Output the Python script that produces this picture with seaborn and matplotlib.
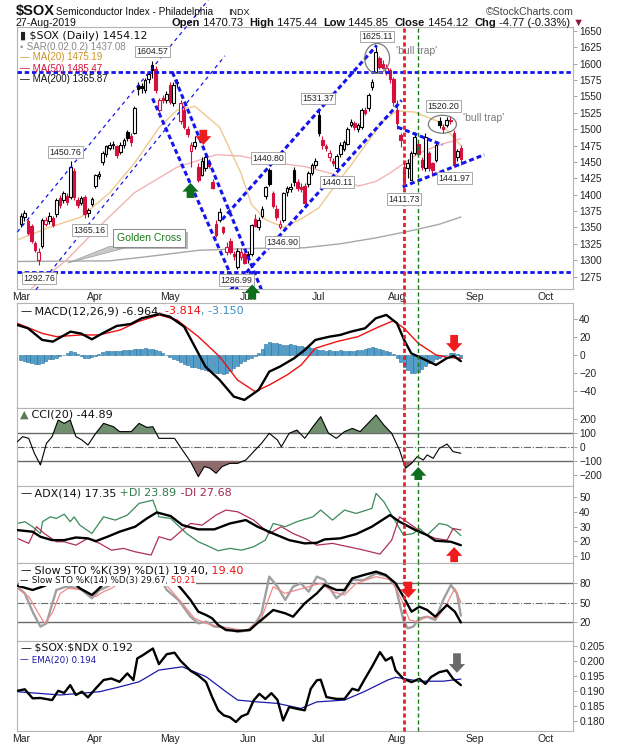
import numpy as np
import pandas as pd
import matplotlib
matplotlib.use("Agg")
import matplotlib.pyplot as plt
import matplotlib.patheffects as pe
from matplotlib.patches import Ellipse, Polygon
import seaborn as sns

# ============================ data ============================
opens = [1356, 1366, 1360, 1352, 1326, 1300, 1322, 1356, 1360, 1364,
         1370, 1395, 1392, 1398, 1396, 1436, 1392, 1388, 1397, 1372,
         1386, 1414, 1428, 1450, 1462, 1472, 1476, 1474, 1465, 1476,
         1496, 1490, 1494, 1568, 1566, 1560, 1576, 1598, 1592, 1530,
         1548, 1544, 1568, 1540, 1572, 1512, 1530, 1500, 1466, 1474,
         1443, 1430, 1440, 1450, 1420, 1356, 1362, 1350, 1312, 1330,
         1310, 1290, 1305, 1310, 1310, 1310, 1363, 1350, 1368, 1398,
         1438, 1402, 1378, 1350, 1362, 1404, 1408, 1438, 1420, 1412,
         1414, 1416, 1433, 1446, 1521, 1484, 1474, 1458, 1452, 1440,
         1462, 1470, 1478, 1506, 1510, 1500, 1504, 1530, 1532, 1564,
         1588, 1608, 1600, 1586, 1590, 1577, 1530, 1491, 1443, 1440,
         1423, 1463, 1477, 1453, 1441, 1463, 1448, 1453, 1513, 1504,
         1506, 1514, 1494, 1458, 1470.73]
highs = [1372, 1376, 1363, 1356, 1330, 1318, 1364, 1366, 1374, 1368,
         1395, 1400, 1406, 1402, 1450.76, 1440, 1396, 1398, 1400, 1380,
         1396, 1432, 1436, 1466, 1476, 1480, 1482, 1476, 1480, 1486,
         1499, 1494, 1535, 1572, 1570, 1578, 1588, 1604.57, 1596, 1548,
         1552, 1558, 1572, 1572, 1576, 1545, 1534, 1505, 1480, 1490,
         1448, 1458, 1464, 1455, 1424, 1362, 1380, 1352, 1328, 1334,
         1314, 1318, 1318, 1312, 1314, 1356, 1370, 1366, 1382, 1414,
         1440.80, 1406, 1384, 1362, 1404, 1414, 1418, 1442, 1424, 1418,
         1418, 1436, 1448, 1456, 1531.37, 1490, 1478, 1468, 1456, 1462,
         1480, 1484, 1504, 1516, 1512, 1510, 1532, 1534, 1556, 1576,
         1625.11, 1612, 1606, 1600, 1594, 1580, 1545, 1494, 1450, 1455,
         1466, 1495, 1482, 1458, 1494, 1466, 1450, 1480, 1518, 1508,
         1518, 1520.20, 1498, 1470, 1475.44]
lows = [1350, 1360, 1338, 1326, 1313, 1292.76, 1318, 1352, 1356, 1350,
        1366, 1380, 1388, 1384, 1394, 1392, 1380, 1384, 1365.16, 1366,
        1382, 1410, 1424, 1446, 1458, 1468, 1470, 1456, 1462, 1472,
        1482, 1474, 1492, 1552, 1556, 1556, 1570, 1578, 1556, 1526,
        1540, 1540, 1538, 1536, 1564, 1508, 1500, 1488, 1442, 1470,
        1420, 1428, 1436, 1440, 1408, 1336, 1358, 1340, 1308, 1310,
        1300, 1286.99, 1300, 1294, 1296, 1306, 1350, 1346, 1364, 1394,
        1414, 1380, 1362, 1346.90, 1358, 1398, 1404, 1414, 1406, 1404,
        1384, 1412, 1430, 1440, 1490, 1470, 1466, 1452, 1444, 1440.11,
        1458, 1466, 1476, 1504, 1498, 1496, 1500, 1522, 1528, 1560,
        1586, 1592, 1592, 1582, 1570, 1536, 1500, 1473, 1411.73, 1426,
        1422, 1460, 1458, 1438, 1436, 1436, 1428, 1450, 1502, 1494,
        1504, 1508, 1441.97, 1452, 1445.85]
closes = [1368, 1372, 1341, 1329, 1316, 1312, 1362, 1361, 1367, 1353,
          1392, 1385, 1403, 1389, 1443, 1397, 1385, 1395, 1370, 1377,
          1393, 1430, 1431, 1463, 1474, 1476, 1478, 1461, 1476, 1483,
          1486, 1480, 1532, 1562, 1563, 1575, 1584, 1590, 1560, 1545,
          1544, 1554, 1542, 1568, 1570, 1540, 1504, 1492, 1476, 1480,
          1423, 1452, 1458, 1444, 1410, 1339, 1374, 1343, 1320, 1312,
          1306, 1314, 1313, 1296, 1305, 1354, 1352, 1362, 1378, 1412,
          1416, 1382, 1366, 1356, 1402, 1410, 1412, 1420, 1410, 1408,
          1387, 1433, 1446, 1452, 1494, 1476, 1471, 1463, 1448, 1459,
          1476, 1480, 1501, 1511, 1503, 1507, 1530, 1525, 1552, 1572,
          1618, 1595, 1594, 1593, 1577, 1542, 1509, 1484, 1420, 1449,
          1463, 1488, 1462, 1443, 1488, 1441, 1438, 1476, 1507, 1500,
          1514, 1512, 1446, 1466, 1454.12]

month_days = [0, 21, 42, 64, 84, 106, 128, 148]
month_names = ['Mar', 'Apr', 'May', 'Jun', 'Jul', 'Aug', 'Sep', 'Oct']

ma20_x = [-1, 8, 17, 25, 32, 39, 44, 49, 56, 62, 65, 69, 74, 79, 84, 88, 93, 97, 102, 106, 111, 118, 124]
ma20_y = [1331, 1350, 1366, 1403, 1448, 1503, 1529, 1535, 1503, 1433, 1385, 1362, 1350, 1363, 1380,
          1410, 1445, 1475, 1512, 1528, 1526, 1511, 1475.19]
ma50_x = [3, 13, 22, 32, 44, 55, 62, 70, 80, 89, 95, 100, 104, 108, 112, 118, 124]
ma50_y = [1257, 1301, 1351, 1403, 1442, 1461, 1459, 1450, 1443, 1430, 1413, 1420, 1433, 1448, 1463, 1476, 1485.47]
ma200_x = [-1, 25, 35, 50, 65, 80, 90, 100, 110, 118, 124]
ma200_y = [1298, 1299, 1305, 1315, 1318, 1319, 1325, 1334, 1345, 1355, 1365.87]

macd_x = [-1, 2, 6, 9, 14, 17, 20, 23, 27, 31, 34, 39, 42, 46, 49, 52, 56, 60, 63, 67,
          70, 73, 77, 80, 83, 87, 90, 93, 97, 100, 103, 106, 108, 110, 113, 117, 120, 122, 124]
macd_y = [33.7, 30, 16.9, 15, 26.2, 24, 17.6, 24.3, 32.6, 34.8, 41.2, 46, 43, 31.8, 9.4, -13.1,
          -28, -46.8, -50.5, -39.3, -18.7, -13.1, -3.7, 5.6, 16.9, 20.6, 22.5, 26.2, 30, 41.2,
          45, 35.6, 16.9, 1.9, -3.7, -11.2, -3.7, -1.1, -6.964]
signal_x = [-1, 6, 10, 17, 22, 28, 33, 39, 44, 50, 56, 61, 66, 70, 75, 79, 83, 89, 95, 100,
            105, 108, 112, 117, 120, 124]
signal_y = [35.6, 24.3, 20.6, 22.5, 22.5, 28.1, 37.5, 45, 39.3, 20.6, -1.9, -28, -41.2, -33.7,
            -22.5, -11.2, 7.5, 15, 20.6, 30, 38.6, 30, 13.1, 0, -2.6, -3.814]
macd_hist = [-6, -7, -8, -9, -10, -10,
             -9, -7, -5, -4, -3, -1, 0,
             2, 4, 3, 1,
             -1, -3, -3, -2, -1,
             1, 3, 4, 5, 5, 5,
             5, 6, 6, 6, 7, 7, 7,
             8, 7, 7, 6, 4, 2,
             0,
             -2, -4, -6, -8, -10, -11, -13,
             -14, -15, -16, -17, -18, -19, -20,
             -20, -21, -20, -18, -15, -12,
             -9, -7, -5, -3, -1,
             2, 7, 12, 15, 14, 13,
             12, 11, 11, 12, 11, 10, 10, 9, 9,
             8, 7, 6, 6, 5, 6, 5, 5,
             6, 5, 4, 5, 5, 6, 6, 7,
             8, 9, 8, 7, 6, 4, 3,
             1, -3, -8,
             -13, -17, -20, -20, -19, -16,
             -12, -9, -7, -5, -3,
             -1, 0,
             2, 2, 1, -3.15]

cci_x = [-1, 0.5, 2.2, 3.8, 5.5, 7.2, 8.8, 10.5, 12.2, 13.9, 15.5, 17.2, 18.9, 21.1, 23.3, 26.1,
         27.8, 31.1, 33.3, 35.5, 37.2, 38.9, 43.3, 45.5, 47.8, 50.0, 51.7, 53.3, 55.0, 56.7,
         58.9, 61.1, 63.4, 65.6, 67.8, 70.0, 72.3, 73.4, 75.6, 77.8, 80.0, 82.3, 84.5, 86.7,
         88.9, 91.2, 93.4, 95.6, 100.1, 102.3, 104.5, 106.7, 108.4, 110.1, 111.7, 113.4,
         114.5, 116.2, 117.9, 120.1, 121.8, 124]
cci_y = [38, 74, 62, -45, -129, 26, 74, 193, 169, 193, 74, 50, 14, 98, 169, 145,
         110, 110, 169, 140, 145, 62, 62, -21, -105, -212, -140, -152, -188, -140,
         -117, -117, -93, -33, 26, 98, 50, 2, 98, 121, 62, 145, 217, 98,
         62, 110, 133, 110, 229, 157, 98, -21, -152, -117, -69, -93,
         -57, -81, -10, 21, -33, -44.89]

adx_x = [-1, 3.3, 5.5, 8.8, 12.2, 15.5, 18.9, 21.1, 24.4, 27.8, 32.2, 35.5, 38.3, 42.2, 45.5,
         50.0, 54.5, 58.9, 63.4, 66.7, 71.1, 75.6, 80.0, 83.4, 85.6, 90.0, 94.5, 98.9, 104.0,
         106.7, 111.2, 114.5, 116.8, 121.2, 124]
adx_y = [27.6, 26.5, 23.1, 20.8, 20.8, 22.6, 22, 20.1, 23.1, 26.5, 29.9, 35.5, 39.6, 37.1, 31,
         28.1, 28.1, 32.1, 34.4, 29.9, 25.3, 20.8, 18.6, 19, 21.3, 22, 24.9, 29.9, 37.8,
         33.3, 27.6, 24.2, 20.4, 19.7, 17.35]
pdi_x = [-1, 1.1, 3.3, 5.5, 6.1, 8.3, 10.0, 12.2, 13.9, 15.0, 16.6, 20.0, 23.3, 26.6, 30.0,
         33.3, 37.2, 38.9, 42.2, 46.7, 50.0, 52.2, 55.6, 58.9, 62.2, 65.6, 68.9, 71.1, 74.5,
         77.8, 82.3, 84.5, 87.8, 91.2, 94.5, 98.9, 100.1, 102.3, 105.6, 107.8, 110.6, 112.3,
         114.5, 117.9, 120.1, 122.3, 124]
pdi_y = [32.1, 33.3, 29.9, 25.3, 33.3, 36.6, 35.5, 38.4, 33.3, 36.6, 31, 25.3, 36.6, 34.4, 37.8,
         45.7, 47.9, 36.6, 35.5, 25.3, 19.7, 17.4, 13.6, 15.2, 14.0, 16.3, 20.8, 32.1, 29.9,
         33.3, 36.6, 41.2, 34.4, 41.2, 38.9, 42.3, 52.5, 46.8, 33.3, 24.2, 25.3, 28.7,
         24.2, 32.1, 31, 27.6, 23.89]
mdi_x = [-1, 2.2, 4.4, 6.6, 10.0, 12.2, 15.5, 18.9, 22.2, 25.5, 28.9, 32.2, 36.7, 38.9, 42.2,
         45.5, 47.8, 51.1, 55.0, 57.8, 61.1, 65.6, 70.0, 73.4, 76.7, 80.0, 83.4, 87.8, 92.3,
         96.7, 101.2, 104.5, 106.7, 110.1, 113.4, 116.8, 120.1, 121.8, 124]
mdi_y = [22, 18.6, 29.9, 25.3, 19.7, 19.7, 17.4, 22, 18.6, 14, 15.2, 12.9, 10.7, 23.1, 20.8,
         27.6, 32.1, 31, 37.8, 41.2, 40, 34.4, 25.3, 29.9, 25.3, 22, 17.4, 18.6, 16.3,
         14, 11.3, 20.8, 36.6, 31, 25.3, 22, 20.8, 28.7, 27.68]

sto39_x = [-1, 3.3, 6.6, 10.0, 13.3, 16.6, 20.0, 21.6, 24.4, 31.1, 38.9, 42.2, 45.5, 47.8, 50.0,
           52.2, 53.9, 55.6, 57.8, 61.1, 64.5, 66.7, 67.8, 71.1, 74.5, 76.7, 80.0, 83.4, 85.6,
           88.9, 91.2, 93.4, 96.7, 100.1, 102.8, 105.6, 107.8, 110.1, 112.3, 114.5, 116.8,
           120.1, 122.3, 124]
sto39_y = [76, 69.3, 75.4, 84.7, 89.8, 71.8, 61.6, 69.3, 84.7, 89.8, 89.8, 89.8, 69.3, 53.9, 35.9,
           30.8, 25.7, 15.4, 7.7, 6.2, 7.7, 18.5, 23.1, 38.5, 33.4, 28.2, 48.8, 64.1, 77,
           69.3, 69.3, 87.2, 92.4, 97.5, 92.4, 79.5, 59, 35.9, 43.6, 38.5, 28.2,
           46.2, 35.9, 19.40]
sto14k_x = [-1, 1.1, 3.3, 5.5, 7.2, 10.0, 12.7, 16.6, 20.0, 22.2, 24.4, 30, 35, 39, 41.1, 44.4,
            47.8, 50.0, 52.2, 54.5, 56.7, 61.1, 64.5, 66.7, 67.8, 70.0, 72.3, 74.5, 76.7, 78.9,
            81.1, 83.4, 85.6, 88.9, 91.2, 93.4, 96.7, 100.1, 103.4, 105.6, 107.8, 109.0, 110.6,
            112.3, 114.5, 116.8, 119.0, 121.2, 122.9, 124]
sto14k_y = [74.4, 64.1, 35.9, 12.9, 18, 69.3, 74.4, 71.8, 56.5, 69.3, 74.4, 92, 95, 90, 69.3, 53.9,
            28.2, 18, 20.6, 12.9, 12.3, 4.6, 7.7, 23, 33.4, 89.8, 74.4, 53.9, 74.4, 79.5,
            66.7, 89.8, 84.7, 56.5, 66.7, 84.7, 84.7, 94.9, 89.8, 74.4, 23.1, 10.3, 12.9,
            25.6, 28.2, 23.1, 53.9, 77, 64.1, 29.67]
sto14d_x = [-1, 2.2, 4.4, 6.6, 8.8, 11.1, 13.3, 17.7, 21.1, 23.3, 25.5, 30, 35, 39, 42.2, 45.5,
            48.9, 52.2, 55.6, 58.9, 63.4, 67.8, 71.1, 74.5, 77.8, 81.1, 84.5, 87.8, 91.2, 94.5,
            100.1, 104.5, 107.3, 109.5, 111.7, 114.5, 117.3, 120.1, 122.3, 124]
sto14d_y = [71.8, 59, 38.5, 18, 33.4, 64.1, 71.8, 69.3, 59, 66.7, 71.8, 88, 93, 90, 69.3, 48.8,
            25.6, 18, 12.9, 10.8, 6.2, 25.6, 74.4, 64.1, 69.3, 74.4, 79.5, 66.7, 61.6, 79.5,
            89.8, 84.7, 53.9, 23.1, 20.6, 28.2, 25.6, 48.8, 71.8, 50.21]

ratio_x = [-1, 1.1, 3.3, 5.5, 8.8, 10.5, 12.2, 13.9, 15.5, 17.2, 18.9, 21.1, 23.3, 25.5, 27.8,
           30.0, 31.7, 32.8, 34.4, 37.2, 38.9, 41.1, 43.3, 45.0, 47.8, 50.0, 52.2, 53.9, 55.6,
           57.2, 58.9, 60.6, 62.2, 63.9, 65.6, 67.2, 68.9, 70.6, 72.3, 73.9, 75.6, 77.8, 80.0,
           81.7, 83.4, 84.5, 86.1, 88.9, 91.2, 93.4, 95.1, 96.7, 98.9, 101.2, 102.8, 104.5,
           105.6, 107.8, 110.1, 112.3, 114.0, 115.6, 117.9, 120.1, 121.8, 124]
ratio_y = [0.1901, 0.1906, 0.1876, 0.1877, 0.1870, 0.1901, 0.1894, 0.1920, 0.1887, 0.1898, 0.1879,
           0.1909, 0.1937, 0.1942, 0.1931, 0.1959, 0.1937, 0.2009, 0.2020, 0.2042, 0.1990, 0.2023,
           0.2028, 0.2001, 0.1968, 0.1952, 0.1930, 0.1880, 0.1836, 0.1819, 0.1813, 0.1797, 0.1816,
           0.1824, 0.1869, 0.1891, 0.1874, 0.1893, 0.1871, 0.1802, 0.1847, 0.1841, 0.1836, 0.1908,
           0.1936, 0.1938, 0.1880, 0.1874, 0.1874, 0.1908, 0.1902, 0.1936, 0.1980, 0.2030, 0.2002,
           0.2013, 0.1969, 0.1941, 0.1930, 0.1941, 0.1924, 0.1947, 0.1963, 0.1969, 0.1941, 0.1920]
ema_x = [-1, 11.1, 22.2, 27.8, 33.3, 38.9, 45.5, 52.2, 57.8, 61.1, 66.7, 72.3, 78.9, 83.4, 91.2,
         96.7, 103.4, 105.6, 112.3, 119.0, 124]
ema_y = [0.1898, 0.1887, 0.1898, 0.1914, 0.1931, 0.1970, 0.1981, 0.1948, 0.1898, 0.1870, 0.1864,
         0.1859, 0.1842, 0.1864, 0.1870, 0.1898, 0.1937, 0.1946, 0.1933, 0.1933, 0.1940]

# trend lines drawn on the price panel: (day, price) end points
channel_thin = [((-1, 1343), (52.8, 1697)), ((4.2, 1255), (57.5, 1612))]
channel_thick = [((37.1, 1547), (61.0, 1255)), ((42.7, 1587), (67.8, 1255)),
                 ((56.7, 1362), (100.3, 1628)), ((59.0, 1254), (107.3, 1544)),
                 ((106.2, 1503), (118.8, 1476)), ((107.6, 1412), (130.6, 1461))]
support_levels = [1588, 1282]
price_tags = [(37.1, 1618.8, '1604.57'), (12.6, 1464.8, '1450.76'), (19.4, 1345.9, '1365.16'),
              (5.1, 1272.7, '1292.76'), (60.7, 1269.7, '1286.99'), (69.7, 1455.6, '1440.80'),
              (73.6, 1327.6, '1346.90'), (83.7, 1547.0, '1531.37'), (89.0, 1419.0, '1440.11'),
              (100.3, 1641.6, '1625.11'), (107.9, 1393.0, '1411.73'), (122.2, 1425.0, '1441.97'),
              (119.1, 1535.0, '1520.20')]
red_line_day, green_line_day = 108, 112

RED = '#d4103c'
BLUE = '#1414ee'

# ============================ figure layout ============================
sns.set_style('white')
plt.rcParams['font.family'] = ['Liberation Sans', 'DejaVu Sans']

fig = plt.figure(figsize=(6.2, 7.5), dpi=100)
renderer = fig.canvas.get_renderer()
L, W = 17 / 620, 556 / 620


def rect(top, bottom):
    return [L, 1 - bottom / 750, W, (bottom - top) / 750]


ax = fig.add_axes(rect(27, 289))
ax_macd = fig.add_axes(rect(303, 408), sharex=ax)
ax_cci = fig.add_axes(rect(408, 486), sharex=ax)
ax_adx = fig.add_axes(rect(486, 563), sharex=ax)
ax_sto = fig.add_axes(rect(563, 641), sharex=ax)
ax_rat = fig.add_axes(rect(641, 731), sharex=ax)
panels = [ax, ax_macd, ax_cci, ax_adx, ax_sto, ax_rat]

for a in panels:
    a.set_facecolor('white')
    for s in a.spines.values():
        s.set_color('#b4b4b4')
        s.set_linewidth(0.8)
    a.yaxis.tick_right()
    a.tick_params(axis='y', direction='out', length=3, width=0.6, pad=1.5,
                  labelsize=7.3, color='#999999', labelcolor='#222222')
    a.tick_params(axis='x', length=0, labelbottom=False)
    a.set_xlim(-1.1, 155.6)


def chain(xpx, ypx, parts, size=8, family='DejaVu Sans', box=False):
    """Write coloured pieces one after another on a baseline given in figure pixels."""
    x = xpx / fig.bbox.width
    kw = dict(bbox=dict(fc='white', ec='none', pad=0.4)) if box else {}
    for piece in parts:
        s, c = piece[0], piece[1]
        w = piece[2] if len(piece) > 2 else 'normal'
        t = fig.text(x, 1 - ypx / fig.bbox.height, s, fontsize=size, color=c, fontweight=w,
                     family=family, va='baseline', ha='left', zorder=9, **kw)
        x = t.get_window_extent(renderer).x1 / fig.bbox.width
    return x


def arrow(a, x, tip, tail, color):
    a.annotate('', xy=(x, tip), xytext=(x, tail), annotation_clip=False, zorder=8,
               arrowprops=dict(arrowstyle='simple,head_length=0.7,head_width=1.3,tail_width=0.62',
                               fc=color, ec='none', mutation_scale=9, shrinkA=0, shrinkB=0))


# ============================ price panel ============================
df = pd.DataFrame({'day': np.arange(len(closes)), 'o': opens, 'h': highs, 'l': lows, 'c': closes})
prev = df['c'].shift(1).fillna(df['c'])
df['col'] = np.where(df['c'] >= prev, 'black', RED)
df['face'] = np.where(df['c'] > df['o'], 'white', df['col'])
body_lo = np.minimum(df['o'], df['c'])
body_h = np.maximum((df['c'] - df['o']).abs(), 0.8)

sns.lineplot(x=ma200_x, y=ma200_y, ax=ax, color='#a8a8a8', lw=1.0, zorder=2)
sns.lineplot(x=ma50_x, y=ma50_y, ax=ax, color='#f2b4b4', lw=1.0, zorder=2)
sns.lineplot(x=ma20_x, y=ma20_y, ax=ax, color='#efc98f', lw=1.0, zorder=2)

ax.vlines(df['day'], df['l'], df['h'], colors=df['col'], lw=0.8, zorder=3)
ax.bar(df['day'], body_h, bottom=body_lo, width=0.72, color=df['face'],
       edgecolor=df['col'], linewidth=0.8, zorder=4)

for lv in support_levels:
    ax.axhline(lv, color=BLUE, lw=2.0, ls=(0, (1.6, 1.0)), zorder=5)
for (x0, y0), (x1, y1) in channel_thin:
    ax.plot([x0, x1], [y0, y1], color=BLUE, lw=0.9, ls=(0, (3, 3)), zorder=5, clip_on=False)
for (x0, y0), (x1, y1) in channel_thick:
    ax.plot([x0, x1], [y0, y1], color=BLUE, lw=2.2, ls=(0, (1.6, 1.0)), zorder=5)

ax.add_patch(Ellipse((100.4, 1608), 7.0, 45.7, fill=False, ec='#7a7a7a', lw=0.9, zorder=6))
ax.add_patch(Ellipse((118.8, 1507.5), 7.9, 27.4, fill=False, ec='#7a7a7a', lw=0.9, zorder=6))
ax.text(111.5, 1620, "'bull trap'", fontsize=7.5, color='#7a7a7a', ha='center', va='center')
ax.text(130.3, 1517, "'bull trap'", fontsize=7.5, color='#7a7a7a', ha='center', va='center')

for x, y, s in price_tags:
    ax.text(x, y, s, fontsize=6.3, ha='center', va='center', color='#222222', zorder=7,
            bbox=dict(boxstyle='square,pad=0.15', fc='white', ec='#9a9a9a', lw=0.6))

ax.add_patch(Polygon([(13.2, 1295.6), (25.0, 1321), (31.0, 1321)], closed=True,
                     fc='#c8c8c8', ec='#9a9a9a', lw=0.5, zorder=6))
gc = ax.text(36.2, 1334, 'Golden Cross', fontsize=7.6, color='#1a7a1a', ha='center', va='center',
             zorder=7, bbox=dict(boxstyle='square,pad=0.35', fc='white', ec='#8a8a8a', lw=0.7))
gc.get_bbox_patch().set_path_effects([pe.withSimplePatchShadow(offset=(2, -2), shadow_rgbFace='#999999',
                                                               alpha=0.7), pe.Normal()])

ax.set_ylim(1256, 1656)
ax.set_yticks(np.arange(1275, 1651, 25))
ax.set_xticks(month_days)
ax.set_xticklabels(month_names)
ax.tick_params(axis='x', labelbottom=True, labelsize=7.5, pad=2.5, labelcolor='#222222')

arrow(ax, 51.4, 1476, 1499, '#ee1c1c')
arrow(ax, 47.8, 1418, 1395, '#0e6e1e')
arrow(ax, 65.2, 1263, 1240, '#0e6e1e')

chain(20, 39, [('\u25ae', '#222222'), (' \\$SOX (Daily) 1454.12', '#111111')], size=7.9)
chain(20, 49.5, [('\u25aa', '#9a9a9a'), (' SAR(0.02,0.2) 1437.08', '#8a8a8a')], size=7, family='Liberation Sans')
chain(20, 60.5, [('\u2014', '#d9a33a'), (' MA(20) 1475.19', '#cc9222')], size=7, family='Liberation Sans')
chain(20, 71.5, [('\u2014', RED), (' MA(50) 1485.47', RED)], size=7, family='Liberation Sans')
chain(20, 82.5, [('\u2014', '#111111'), (' MA(200) 1365.87', '#111111')], size=7, family='Liberation Sans')

# ============================ MACD ============================
ax_macd.bar(np.arange(len(macd_hist)), macd_hist, width=0.85, color='#4f9fcf',
            edgecolor='#2a6f9a', linewidth=0.4, zorder=2)
sns.lineplot(x=signal_x, y=signal_y, ax=ax_macd, color='#ee1111', lw=1.0, zorder=3)
sns.lineplot(x=macd_x, y=macd_y, ax=ax_macd, color='black', lw=1.7, zorder=4)
ax_macd.set_ylim(-59.6, 58.4)
ax_macd.set_yticks([-40, -20, 0, 20, 40])
arrow(ax_macd, 122.1, 3.4, 22.5, '#ee1c1c')
chain(20, 314, [('\u2014', '#111111'), (' MACD(12,26,9) -6.964', '#111111'),
                (', -3.814', '#ee1111'), (', -3.150', '#3a8fc4')])

# ============================ CCI ============================
cx, cy = np.array(cci_x), np.array(cci_y)
ax_cci.fill_between(cx, 100, cy, where=cy > 100, interpolate=True, color='#6f8f6f', lw=0, zorder=2)
ax_cci.fill_between(cx, -100, cy, where=cy < -100, interpolate=True, color='#8e6a6a', lw=0, zorder=2)
for lv in (100, -100):
    ax_cci.axhline(lv, color='#6a6a6a', lw=1.0, zorder=1)
ax_cci.axhline(0, color='#6a6a6a', lw=0.8, ls='-.', zorder=1)
sns.lineplot(x=cci_x, y=cci_y, ax=ax_cci, color='black', lw=0.8, zorder=3)
ax_cci.set_ylim(-279, 279)
ax_cci.set_yticks([-200, -100, 0, 100, 200])
arrow(ax_cci, 112, -143, -236, '#0e6e1e')
chain(20, 417.5, [('\u25b2', '#5a7a5a'), (' CCI(20) -44.89', '#111111')])

# ============================ ADX ============================
sns.lineplot(x=pdi_x, y=pdi_y, ax=ax_adx, color='#3a8a5a', lw=0.9, zorder=2)
sns.lineplot(x=mdi_x, y=mdi_y, ax=ax_adx, color='#b0305a', lw=0.9, zorder=2)
sns.lineplot(x=adx_x, y=adx_y, ax=ax_adx, color='black', lw=1.7, zorder=3)
ax_adx.set_ylim(5.3, 57.5)
ax_adx.set_yticks([10, 20, 30, 40, 50])
arrow(ax_adx, 122.1, 16.1, 5.9, '#ee1c1c')
chain(20, 496, [('\u2014', '#111111'), (' ADX(14) 17.35', '#111111'),
                (' +DI 23.89', '#2f7a4c'), (' -DI 27.68', '#a02850')])

# ============================ Slow stochastics ============================
for lv in (80, 20):
    ax_sto.axhline(lv, color='#6a6a6a', lw=1.0, zorder=1)
ax_sto.axhline(50, color='#6a6a6a', lw=0.8, ls='-.', zorder=1)
sns.lineplot(x=sto14k_x, y=sto14k_y, ax=ax_sto, color='#a0a0a0', lw=1.7, zorder=2)
sns.lineplot(x=sto14d_x, y=sto14d_y, ax=ax_sto, color='#f08a8a', lw=0.9, zorder=2)
sns.lineplot(x=sto39_x, y=sto39_y, ax=ax_sto, color='black', lw=1.7, zorder=3)
ax_sto.set_ylim(-9.2, 110.8)
ax_sto.set_yticks([20, 50, 80])
arrow(ax_sto, 109.2, 57, 82, '#ee1c1c')
chain(20, 573.5, [('\u2014', '#111111'), (' Slow STO %K(39) %D(1) 19.40,', '#111111'),
                  (' 19.40', '#ee1111')], box=True)
chain(20, 583, [('\u2014', '#111111'), (' Slow STO %K(14) %D(3) 29.67,', '#111111'),
                (' 50.21', '#ee1111')], size=6.3, box=True)

# ============================ $SOX:$NDX ratio ============================
sns.lineplot(x=ema_x, y=ema_y, ax=ax_rat, color='#1a1aa8', lw=0.9, zorder=2)
sns.lineplot(x=ratio_x, y=ratio_y, ax=ax_rat, color='black', lw=1.7, zorder=3)
ax_rat.set_ylim(0.1767, 0.2067)
ratio_ticks = [0.180, 0.185, 0.190, 0.195, 0.200, 0.205]
ax_rat.set_yticks(ratio_ticks)
ax_rat.set_yticklabels(['%.3f' % v for v in ratio_ticks])
ax_rat.tick_params(axis='x', labelbottom=True, labelsize=7.5, pad=2.5, labelcolor='#222222')
arrow(ax_rat, 122.9, 0.1961, 0.2026, '#6a6a6a')
chain(20, 651, [('\u2014', '#111111'), (' \\$SOX:\\$NDX 0.192', '#111111')], size=7.8)
chain(20, 662.5, [('\u2014', '#1a1aa8'), (' EMA(20) 0.194', '#1a1aa8')], size=6.3)

# ============================ event lines across all panels ============================
for a in panels:
    lo = -(303 - 289) / 262 if a is ax else 0
    a.axvline(red_line_day, ymin=lo, ymax=1, color='#e8202a', lw=2.0, ls=(0, (1.5, 1.0)),
              zorder=6, clip_on=False)
    a.axvline(green_line_day, ymin=lo, ymax=1, color='#1a7a1a', lw=1.0, ls=(0, (3, 2)),
              zorder=6, clip_on=False)

# ============================ header ============================
chain(16, 15, [('\\$SOX', '#111111', 'bold')], size=10.5, family='Liberation Sans')
chain(56, 15, [('Semiconductor Index - Philadelphia', '#111111')], size=7.2, family='Liberation Sans')
chain(228, 15, [('INDX', '#111111')], size=6.5, family='Liberation Sans')
fig.text(574 / 620, 1 - 15 / 750, '\u00a9StockCharts.com', fontsize=7.6, va='baseline', ha='right', color='#444444')
chain(16, 26, [('27-Aug-2019', '#111111')], size=7.6, family='Liberation Sans')
chain(171, 26, [('Open', '#111111', 'bold'), (' 1470.73  ', '#111111'), ('High', '#111111', 'bold'),
                (' 1475.44  ', '#111111'), ('Low', '#111111', 'bold'), (' 1445.85  ', '#111111'),
                ('Close', '#111111', 'bold'), (' 1454.12  ', '#111111'), ('Chg', '#111111', 'bold'),
                (' -4.77 (-0.33%)', '#111111'), (' \u25bc', '#8b1a3a')], size=8, family='Liberation Sans')

fig.savefig('out.png', dpi=100)
